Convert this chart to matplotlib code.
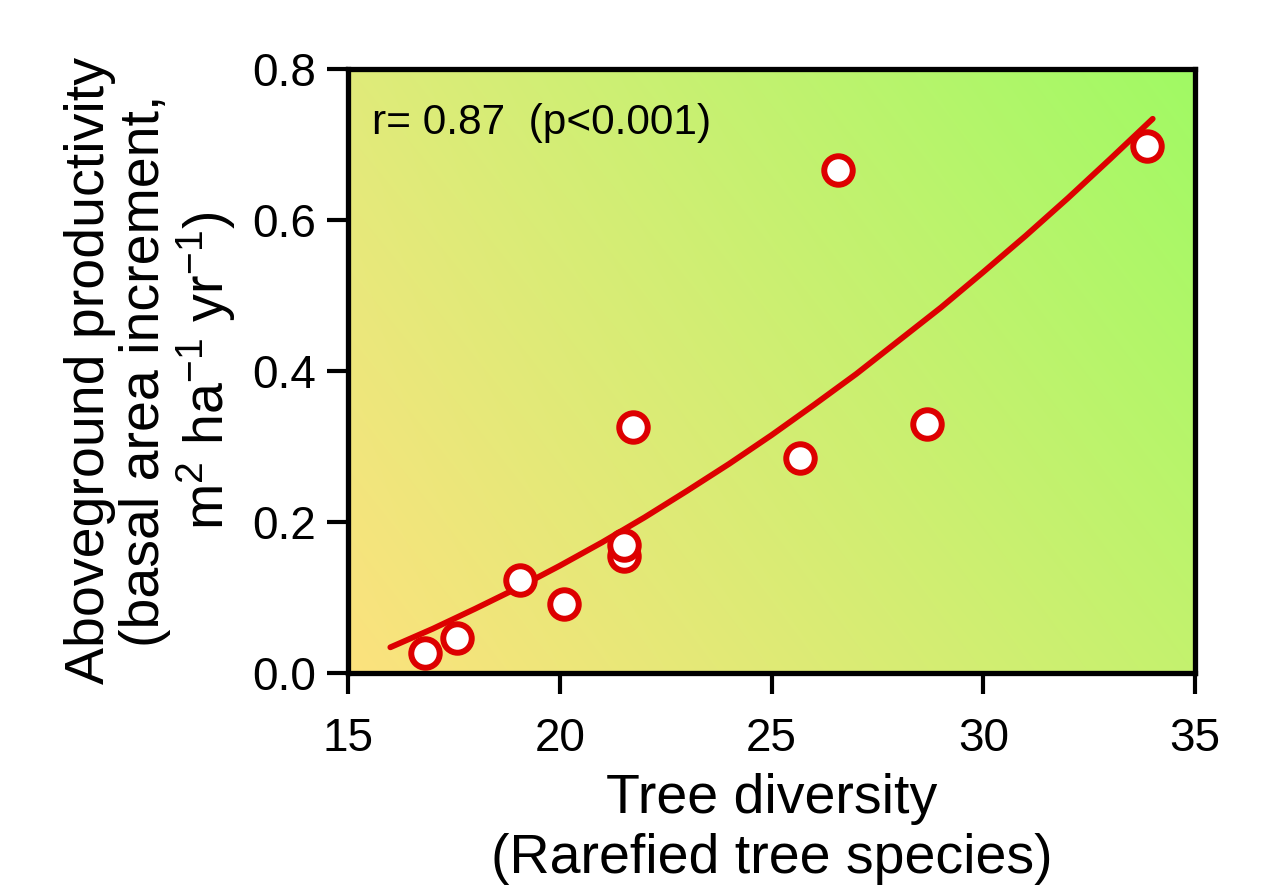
import numpy as np
import matplotlib
matplotlib.use("Agg")
import matplotlib.pyplot as plt

# Data
diversity = [16.82, 17.57, 19.06, 20.10, 21.52, 21.52, 21.73, 25.67, 26.57, 28.67, 33.87]
productivity = [0.026, 0.046, 0.123, 0.091, 0.155, 0.170, 0.326, 0.285, 0.666, 0.330, 0.698]

# fitted curve
fit_x = [16, 17, 18, 19, 20, 21, 22, 23, 24, 25, 26, 27, 28, 29, 30, 31, 32, 33, 34]
fit_y = [0.034, 0.0585, 0.085, 0.1125, 0.142, 0.173, 0.206, 0.241, 0.277, 0.315,
         0.355, 0.396, 0.440, 0.484, 0.531, 0.579, 0.629, 0.681, 0.734]

x_ticks = [15, 20, 25, 30, 35]
y_ticks = [0.0, 0.2, 0.4, 0.6, 0.8]

plt.rcParams['font.family'] = ['Liberation Sans', 'DejaVu Sans']
plt.rcParams['mathtext.fontset'] = 'custom'
plt.rcParams['mathtext.rm'] = 'Liberation Sans'
plt.rcParams['mathtext.default'] = 'regular'

red = '#DD0000'

fig = plt.figure(figsize=(12.85, 8.91), dpi=100)
ax = fig.add_axes([0.2708, 0.2447, 0.6592, 0.6779])

# background gradient (corner colours)
bl = np.array([252, 226, 126]) / 255
br = np.array([196, 242, 110]) / 255
tl = np.array([224, 235, 122]) / 255
tr = np.array([160, 250, 100]) / 255
u = np.linspace(0, 1, 200)[None, :, None]
v = np.linspace(0, 1, 200)[:, None, None]
grad = (1 - u) * (1 - v) * bl + u * (1 - v) * br + (1 - u) * v * tl + u * v * tr
ax.imshow(grad, origin='lower', extent=[15, 35, 0, 0.8], aspect='auto',
          interpolation='bilinear', zorder=0)

ax.plot(fit_x, fit_y, color=red, lw=4.2, solid_capstyle='round', zorder=2)
ax.plot(diversity, productivity, 'o', ms=20.5, mfc='white', mec=red, mew=4.3,
        ls='none', zorder=3)

ax.set_xlim(15, 35)
ax.set_ylim(0, 0.8)
ax.set_xticks(x_ticks)
ax.set_yticks(y_ticks)
ax.set_yticklabels([f'{t:.1f}' for t in y_ticks])
ax.tick_params(direction='out', length=15, width=3, labelsize=33, pad=8)
ax.tick_params(axis='x', pad=17)
for s in ax.spines.values():
    s.set_linewidth(3.8)
    s.set_zorder(5)

ax.set_xlabel('Tree diversity\n(Rarefied tree species)', fontsize=40,
              linespacing=1.2, labelpad=8)
ax.set_ylabel('Aboveground productivity\n(basal area increment,\n'
              'm$^{2}$ ha$^{-1}$ yr$^{-1}$)', fontsize=40, linespacing=1.08,
              labelpad=10)

ax.text(0.028, 0.892, 'r= 0.87  (p<0.001)', transform=ax.transAxes,
        fontsize=30.5, va='baseline', ha='left', zorder=4)

fig.savefig('out.png', dpi=100)
